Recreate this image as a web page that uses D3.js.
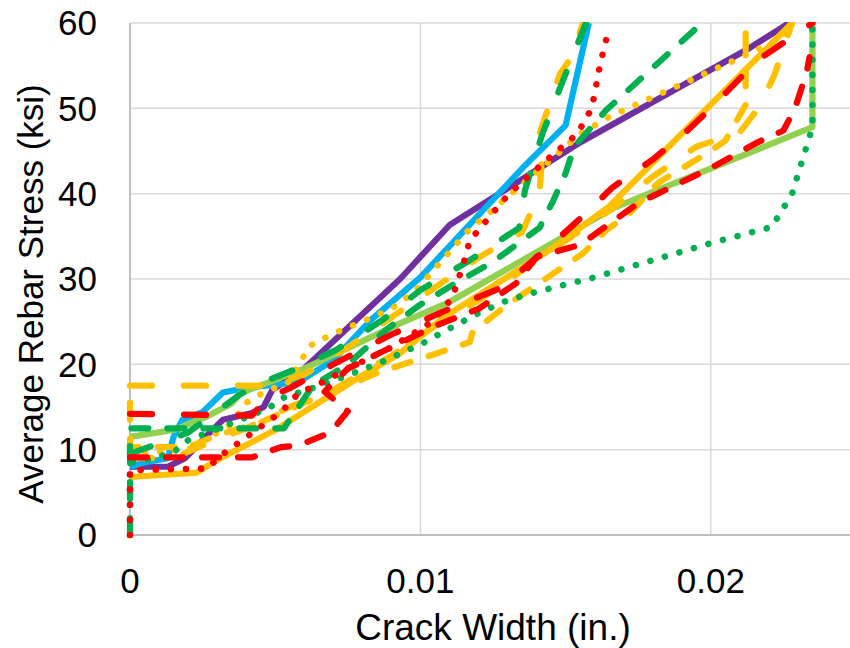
<!DOCTYPE html>
<html>
<head>
<meta charset="utf-8">
<script src="https://cdn.jsdelivr.net/npm/d3@7"></script>
<style>
  body { margin: 0; background: #fff; }
  text { font-family: "Liberation Sans", Arial, sans-serif; fill: #000; }
</style>
</head>
<body>
<div id="chart"></div>
<script>
// DATA (crack width in., average rebar stress ksi)
var xTicks = [0, 0.01, 0.02];
var yTicks = [0, 10, 20, 30, 40, 50, 60];

var purpleSolid = [[0,8],[0.0013,8],[0.0019,9],[0.0026,11.5],[0.0032,13.5],[0.0042,14.3],[0.0046,15],[0.0049,17],[0.006,19.5],[0.0093,30],[0.011,36.3],[0.0155,46],[0.0212,56.8],[0.0227,60]];
var blueSolid = [[0,8],[0.0005,8.5],[0.0013,9],[0.0015,11.5],[0.0018,13.5],[0.0025,14.4],[0.0032,16.7],[0.0041,17.3],[0.0058,17.9],[0.007,20.5],[0.0083,25.2],[0.01,30.2],[0.0136,43.3],[0.015,48],[0.0158,60]];
var limeSolid = [[0,11.5],[0.0015,12.3],[0.0026,13.8],[0.0035,15.4],[0.0038,16.6],[0.0047,17.8],[0.006,19.5],[0.0093,24.8],[0.011,27.3],[0.0167,38.4],[0.0235,47.8],[0.0235,60]];
var goldSolid = [[0,6.8],[0.0023,7.3],[0.003,8.8],[0.005,12.3],[0.0065,15.5],[0.008,18.7],[0.0093,21.3],[0.0108,25.5],[0.0145,33.5],[0.0165,38.5],[0.0228,60]];
var goldDashA = [[0,17.5],[0.0048,17.5],[0.006,18.8],[0.0075,22],[0.009,25.5],[0.0105,29],[0.012,32.5],[0.0135,35.5],[0.0141,40],[0.0142,45],[0.0141,47],[0.0148,54],[0.0152,56],[0.0156,60]];
var goldDashB = [[0,15.5],[0,10.3],[0.002,10.3],[0.003,11.7],[0.0045,13.2],[0.006,15.5],[0.0075,17.5],[0.0085,19],[0.0095,20.1],[0.0104,21.1],[0.0117,22.6],[0.0118,23.8],[0.013,27],[0.0143,30],[0.0156,33],[0.0164,35.7],[0.0172,37.7],[0.0182,41.3],[0.0199,44.8],[0.0205,46.2],[0.0212,50.4],[0.0212,60]];
var goldDashC = [[0,9],[0.0015,9],[0.0025,10.5],[0.004,12.5],[0.0055,15],[0.007,17],[0.009,21],[0.0105,24.5],[0.012,27.5],[0.0135,31],[0.015,34.5],[0.0165,38],[0.018,42],[0.0195,45.5],[0.021,47.2],[0.0217,50.3],[0.0222,54],[0.0228,60]];
var goldDot = [[0,9.5],[0.002,10],[0.0035,13],[0.004,15.5],[0.0045,16.5],[0.0055,18],[0.0059,20.5],[0.0062,22.2],[0.007,23.6],[0.008,25],[0.009,26.5],[0.0098,28.5],[0.0116,35.5],[0.0132,40.2],[0.0145,44],[0.0155,47],[0.0165,49],[0.0208,55.6],[0.0223,58],[0.0229,60]];
var greenDashA = [[0,0],[0,12.5],[0.0053,12.5],[0.0058,15],[0.0063,17.5],[0.0075,20],[0.0088,24],[0.01,27],[0.0112,29.5],[0.0125,32],[0.0141,36],[0.01455,39],[0.015,42.4],[0.0153,45.5],[0.0164,49.8],[0.0197,60]];
var greenDashB = [[0,9.5],[0.002,12],[0.0038,16.5],[0.0045,17.8],[0.0056,19.3],[0.0071,21.7],[0.0087,25.2],[0.01,28.7],[0.0117,32.2],[0.0134,36],[0.0136,40.4],[0.0142,47],[0.0148,52.3],[0.0157,60]];
var greenDot = [[0,0],[0,8.5],[0.0006,8.8],[0.0015,9.7],[0.002,11.1],[0.0038,13.5],[0.0048,14.9],[0.0052,16],[0.0068,17.8],[0.0087,20.3],[0.0101,22.5],[0.011,24.2],[0.012,26],[0.013,27.5],[0.014,28.5],[0.016,30.2],[0.018,32.2],[0.02,34.2],[0.0221,36.1],[0.0228,40],[0.0235,47.8],[0.0235,60]];
var redDashA = [[0,14.2],[0.0042,14],[0.0047,16],[0.0055,17.2],[0.007,20],[0.009,23.5],[0.011,26.5],[0.0128,29],[0.0145,34],[0.0158,38],[0.0166,40.7],[0.018,44],[0.0192,47.4],[0.02,50],[0.0216,55.6],[0.0235,60]];
var redDashB = [[0,9.1],[0.0042,9.1],[0.0052,10.3],[0.0058,10.5],[0.0069,12],[0.0075,14.5],[0.0067,16.8],[0.0075,19.5],[0.009,22],[0.0105,24.5],[0.012,26.5],[0.0133,29.5],[0.014,32.6],[0.0155,34],[0.0175,38.9],[0.02,43],[0.0216,46],[0.0225,47.4],[0.0229,50],[0.0233,54.2],[0.0234,56]];
var redDot = [[0,0],[0,7.6],[0.0027,7.8],[0.003,9],[0.0041,11.7],[0.0052,14.4],[0.0058,16.6],[0.0064,17.5],[0.0075,19.5],[0.009,22],[0.0104,25],[0.0111,27.8],[0.0115,32],[0.0117,34.5],[0.013,39.8],[0.0142,43.5],[0.0154,47],[0.0159,50],[0.0162,55.3],[0.0165,59.5]];

// SERIES STYLES (drawing order)
var series = [
  { data: purpleSolid, color: "#7030a0", style: "solid" },
  { data: blueSolid,   color: "#00b0f0", style: "solid" },
  { data: limeSolid,   color: "#92d050", style: "solid" },
  { data: goldSolid,   color: "#ffc000", style: "solid" },
  { data: goldDashA,   color: "#ffc000", style: "long" },
  { data: goldDashB,   color: "#ffc000", style: "dash" },
  { data: goldDashC,   color: "#ffc000", style: "long" },
  { data: goldDot,     color: "#ffc000", style: "dot" },
  { data: greenDashA,  color: "#00b050", style: "dash" },
  { data: greenDashB,  color: "#00b050", style: "long" },
  { data: greenDot,    color: "#00b050", style: "dot" },
  { data: redDashA,    color: "#ff0000", style: "long" },
  { data: redDashB,    color: "#ff0000", style: "dash" },
  { data: redDot,      color: "#ff0000", style: "dot" }
];

var dashes = { solid: null, dash: "17,19", long: "22,32", dot: "0.1,15" };

function drawChart() {
    var width = 850,
        height = 648,
        plotLeft = 130,
        plotTop = 23,
        plotBottom = 535;

    var x = d3.scaleLinear().domain([0, 0.025]).range([plotLeft, plotLeft + 726]);
    var y = d3.scaleLinear().domain([0, 60]).range([plotBottom, plotTop]);

    var svg = d3.select("#chart").append("svg")
        .attr("width", width)
        .attr("height", height);

    // GRID
    svg.append("g")
        .attr("class", "grid-y")
        .selectAll("line")
        .data(yTicks.filter(function(d) { return d > 0; }))
        .enter().append("line")
        .attr("x1", plotLeft).attr("x2", width)
        .attr("y1", function(d) { return y(d); })
        .attr("y2", function(d) { return y(d); })
        .attr("stroke", "#d9d9d9")
        .attr("stroke-width", 1.5);

    svg.append("g")
        .attr("class", "grid-x")
        .selectAll("line")
        .data(xTicks.filter(function(d) { return d > 0; }))
        .enter().append("line")
        .attr("x1", function(d) { return x(d); })
        .attr("x2", function(d) { return x(d); })
        .attr("y1", plotTop).attr("y2", plotBottom)
        .attr("stroke", "#d9d9d9")
        .attr("stroke-width", 1.5);

    // AXIS LINES
    svg.append("line")
        .attr("x1", plotLeft).attr("x2", width)
        .attr("y1", plotBottom).attr("y2", plotBottom)
        .attr("stroke", "#bfbfbf").attr("stroke-width", 2);
    svg.append("line")
        .attr("x1", plotLeft).attr("x2", plotLeft)
        .attr("y1", plotTop).attr("y2", plotBottom)
        .attr("stroke", "#bfbfbf").attr("stroke-width", 2);

    // LINES
    svg.append("clipPath")
        .attr("id", "plotclip")
        .append("rect")
        .attr("x", 0).attr("y", plotTop - 1)
        .attr("width", width).attr("height", height);

    var line = d3.line()
        .x(function(d) { return x(d[0]); })
        .y(function(d) { return y(d[1]); });

    svg.append("g")
        .attr("class", "series")
        .attr("clip-path", "url(#plotclip)")
        .selectAll("path")
        .data(series)
        .enter().append("path")
        .attr("d", function(d) { return line(d.data); })
        .attr("fill", "none")
        .attr("stroke", function(d) { return d.color; })
        .attr("stroke-width", function(d) { return d.style == "dot" ? 6.5 : 6.2; })
        .attr("stroke-linecap", function(d) { return d.style == "solid" ? "butt" : "round"; })
        .attr("stroke-linejoin", "round")
        .attr("stroke-dasharray", function(d) { return dashes[d.style]; });

    // TICK LABELS
    svg.append("g")
        .selectAll("text")
        .data(yTicks)
        .enter().append("text")
        .attr("x", 97)
        .attr("y", function(d) { return y(d); })
        .attr("dy", "0.35em")
        .attr("text-anchor", "end")
        .attr("font-size", 35)
        .text(function(d) { return d; });

    svg.append("g")
        .selectAll("text")
        .data(xTicks)
        .enter().append("text")
        .attr("x", function(d) { return x(d); })
        .attr("y", 593)
        .attr("text-anchor", "middle")
        .attr("font-size", 35)
        .text(function(d) { return d; });

    // AXIS TITLES
    svg.append("text")
        .attr("x", 493)
        .attr("y", 640)
        .attr("text-anchor", "middle")
        .attr("font-size", 37)
        .text("Crack Width (in.)");

    svg.append("text")
        .attr("transform", "translate(43,294) rotate(-90)")
        .attr("text-anchor", "middle")
        .attr("font-size", 35)
        .text("Average Rebar Stress (ksi)");
}

drawChart();
</script>
</body>
</html>
